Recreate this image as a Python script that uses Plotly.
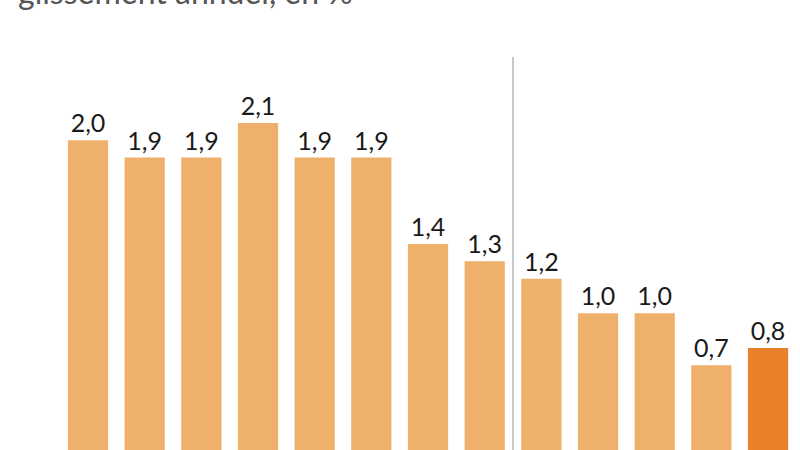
import plotly.graph_objects as go

categories = ["1", "2", "3", "4", "5", "6", "7", "8", "9", "10", "11", "12", "13"]
values = [2.0, 1.9, 1.9, 2.1, 1.9, 1.9, 1.4, 1.3, 1.2, 1.0, 1.0, 0.7, 0.8]
labels = ["2,0", "1,9", "1,9", "2,1", "1,9", "1,9", "1,4", "1,3", "1,2", "1,0", "1,0", "0,7", "0,8"]
subtitle = "glissement annuel, en %"

light = "#EFB06C"
dark = "#E8812A"
colors = [light] * (len(values) - 1) + [dark]

fig = go.Figure()
fig.add_trace(go.Bar(
    x=list(range(len(categories))),
    y=values,
    text=labels,
    textposition="outside",
    constraintext="none",
    cliponaxis=False,
    textfont=dict(family="Source Sans Pro, Lato, sans-serif", size=25, color="#1a1a1a"),
    marker=dict(color=colors, line=dict(width=0)),
    width=0.71,
    hoverinfo="skip",
))

# separator line between bars 8 and 9
fig.add_shape(type="line", xref="x", yref="y", x0=7.5, x1=7.5, y0=0, y1=2.48,
              line=dict(color="#c8c8c8", width=2))

fig.add_annotation(text=subtitle, xref="paper", yref="paper", x=0.02, y=1,
                   xanchor="left", yanchor="bottom", yshift=-13, showarrow=False,
                   font=dict(family="Source Sans Pro, Lato, sans-serif", size=32, color="#555555"))

fig.update_layout(
    width=800, height=450,
    margin=dict(l=0, r=0, t=0, b=0),
    paper_bgcolor="white", plot_bgcolor="white",
    showlegend=False,
    xaxis=dict(range=[-1.553, 12.564], visible=False, fixedrange=True),
    yaxis=dict(range=[0.21, 2.81], visible=False, fixedrange=True),
)

fig.write_html("out.html", config={"displayModeBar": False},
               post_script="document.body.style.margin='0px';document.body.style.overflow='hidden';")
